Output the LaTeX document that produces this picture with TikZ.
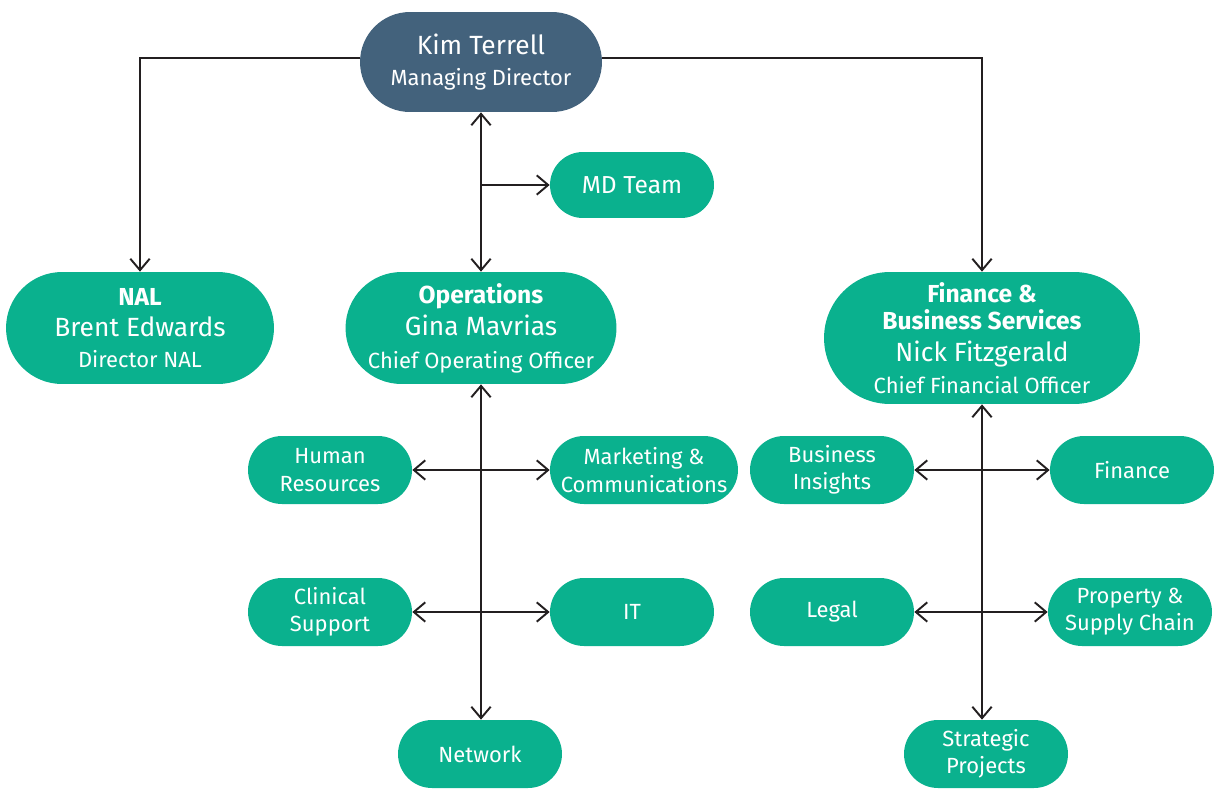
\documentclass[tikz,border=0pt]{standalone}
\usepackage{fontspec}
\setmainfont{Fira Sans}
\usetikzlibrary{arrows.meta, shapes.misc, calc}
\definecolor{mygreen}{RGB}{10,177,142}
\definecolor{myslate}{RGB}{67,98,124}
\definecolor{mydark}{RGB}{35,31,32}
\tikzset{
  block/.style={rounded rectangle, fill=mygreen, text=white, align=center,
    minimum width=3.28cm, minimum height=1.36cm, inner sep=0pt,
    font=\fontsize{12.5}{15.5}\selectfont},
  bigblock/.style={rounded rectangle, fill=mygreen, text=white, align=center,
    minimum width=5.36cm, minimum height=2.24cm, inner sep=0pt,
    font=\fontsize{12.5}{17.5}\selectfont},
  topblock/.style={rounded rectangle, fill=myslate, text=white, align=center,
    minimum width=4.84cm, minimum height=2.0cm, inner sep=0pt,
    font=\fontsize{12.5}{18}\selectfont},
  arrow/.style={-{Straight Barb[length=6.5pt,width=11pt]}, line width=1.1pt, color=mydark},
  dblarrow/.style={{Straight Barb[length=6.5pt,width=11pt]}-{Straight Barb[length=6.5pt,width=11pt]},
    line width=1.1pt, color=mydark},
  line/.style={line width=1.1pt, color=mydark}
}
\newcommand{\hd}{\fontsize{14}{17}\bfseries\selectfont}
\newcommand{\nm}{\fontsize{15}{18}\selectfont}
\newcommand{\ti}{\fontsize{12.5}{15}\selectfont}

\begin{document}
\begin{tikzpicture}[x=0.02cm, y=-0.02cm]
  \useasboundingbox (0,0) rectangle (1223,788);

  \node[topblock] (kim) at (481,62) {{\nm Kim Terrell}\\{\ti Managing Director}};
  \node[block, minimum height=1.32cm, font=\fontsize{14}{17}\selectfont] (mdteam) at (632,185) {MD Team};

  \node[bigblock] (nal) at (140,328) {{\hd NAL}\\{\nm Brent Edwards}\\{\ti Director NAL}};
  \node[bigblock, font=\fontsize{12.5}{18.5}\selectfont] (ops) at (481,328)
    {{\hd Operations}\\{\nm Gina Mavrias}\\{\ti Chief Operating Officer}};
  \node[bigblock, minimum width=6.32cm, minimum height=2.64cm, font=\fontsize{12.5}{18}\selectfont] (fin) at (982,338)
    {{\hd Finance \&}\\[-2.5pt]{\hd Business Services}\\{\nm Nick Fitzgerald}\\{\ti Chief Financial Officer}};

  % Operations units
  \node[block] (hr) at (330,470) {Human\\Resources};
  \node[block, minimum width=3.76cm] (mkt) at (644,470) {Marketing \&\\Communications};
  \node[block] (clin) at (330,612) {Clinical\\Support};
  \node[block] (it) at (632,612) {IT};
  \node[block] (net) at (480,754) {Network};

  % Finance units
  \node[block] (bi) at (832,470) {Business\\Insights};
  \node[block] (finance) at (1132,470) {Finance};
  \node[block] (legal) at (832,612) {Legal};
  \node[block] (prop) at (1130,612) {Property \&\\Supply Chain};
  \node[block] (strat) at (986,754) {Strategic\\Projects};

  % Paths
  \draw[arrow] (kim.west |- 0,58) -| (nal.north);
  \draw[arrow] (kim.east |- 0,58) -| (fin.north);
  \draw[dblarrow] (kim.south) -- (ops.north);
  \coordinate (mdjoin) at (kim.south |- mdteam.west);
  \draw[arrow] (mdjoin) -- (mdteam.west);

  \draw[dblarrow] (ops.south) -- (ops.south |- net.north);
  \draw[dblarrow] (hr.east) -- (mkt.west);
  \draw[dblarrow] (clin.east) -- (it.west);

  \draw[dblarrow] (fin.south) -- (fin.south |- strat.north);
  \draw[dblarrow] (bi.east) -- (finance.west);
  \draw[dblarrow] (legal.east) -- (prop.west);
\end{tikzpicture}
\end{document}
